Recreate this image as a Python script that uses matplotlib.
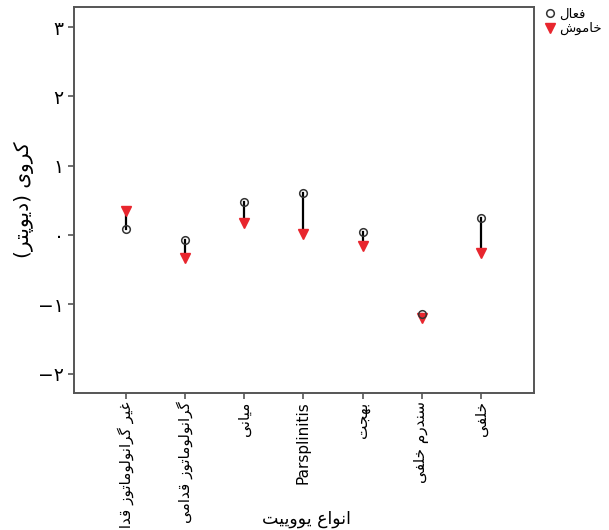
import matplotlib
matplotlib.use("Agg")
import matplotlib.pyplot as plt

# simple persian shaping: (isolated, final, initial, medial)
FORMS = {
    'ا': ('\uFE8D', '\uFE8E', None, None),
    'ب': ('\uFE8F', '\uFE90', '\uFE91', '\uFE92'),
    'پ': ('\uFB56', '\uFB57', '\uFB58', '\uFB59'),
    'ت': ('\uFE95', '\uFE96', '\uFE97', '\uFE98'),
    'ج': ('\uFE9D', '\uFE9E', '\uFE9F', '\uFEA0'),
    'خ': ('\uFEA5', '\uFEA6', '\uFEA7', '\uFEA8'),
    'د': ('\uFEA9', '\uFEAA', None, None),
    'ر': ('\uFEAD', '\uFEAE', None, None),
    'ز': ('\uFEAF', '\uFEB0', None, None),
    'س': ('\uFEB1', '\uFEB2', '\uFEB3', '\uFEB4'),
    'ش': ('\uFEB5', '\uFEB6', '\uFEB7', '\uFEB8'),
    'ع': ('\uFEC9', '\uFECA', '\uFECB', '\uFECC'),
    'غ': ('\uFECD', '\uFECE', '\uFECF', '\uFED0'),
    'ف': ('\uFED1', '\uFED2', '\uFED3', '\uFED4'),
    'ق': ('\uFED5', '\uFED6', '\uFED7', '\uFED8'),
    'ک': ('\uFB8E', '\uFB8F', '\uFB90', '\uFB91'),
    'گ': ('\uFB92', '\uFB93', '\uFB94', '\uFB95'),
    'ل': ('\uFEDD', '\uFEDE', '\uFEDF', '\uFEE0'),
    'م': ('\uFEE1', '\uFEE2', '\uFEE3', '\uFEE4'),
    'ن': ('\uFEE5', '\uFEE6', '\uFEE7', '\uFEE8'),
    'ه': ('\uFEE9', '\uFEEA', '\uFEEB', '\uFEEC'),
    'و': ('\uFEED', '\uFEEE', None, None),
    'ی': ('\uFBFC', '\uFBFD', '\uFBFE', '\uFBFF'),
}
MIRROR = {'(': ')', ')': '('}


def fa(s):
    out = []
    for i, ch in enumerate(s):
        if ch not in FORMS:
            out.append(MIRROR.get(ch, ch))
            continue
        prev = s[i - 1] if i > 0 else None
        nxt = s[i + 1] if i + 1 < len(s) else None
        join_prev = prev in FORMS and FORMS[prev][2] is not None
        join_next = FORMS[ch][2] is not None and nxt in FORMS
        f = FORMS[ch]
        if join_prev and join_next:
            out.append(f[3])
        elif join_prev:
            out.append(f[1])
        elif join_next:
            out.append(f[2])
        else:
            out.append(f[0])
    return ''.join(out[::-1])


categories = ['غیر گرانولوماتوز قدامی', 'گرانولوماتوز قدامی', 'میانی',
              'Parsplinitis', 'بهجت', 'سندرم خلفی', 'خلفی']
active = [0.09, -0.07, 0.47, 0.60, 0.05, -1.14, 0.25]
inactive = [0.34, -0.33, 0.17, 0.01, -0.16, -1.20, -0.26]
yticks = [-2, -1, 0, 1, 2, 3]
ytick_labels = ['−۲', '−۱', '۰', '۱', '۲', '۳']

plt.rcParams['font.family'] = ['DejaVu Sans']

fig = plt.figure(figsize=(6.09, 5.30), dpi=100)
ax = fig.add_axes([0.1215, 0.2585, 0.7553, 0.7283])

x = list(range(1, len(categories) + 1))
for xi, a, b in zip(x, active, inactive):
    ax.plot([xi, xi], [a, b], color='black', lw=1.6, zorder=2)
ax.plot(x, inactive, linestyle='none', marker='v', ms=7.5, color='#e8262e',
        mec='#e8262e', zorder=3, label=fa('خاموش'))
ax.plot(x, active, linestyle='none', marker='o', ms=5.5, mfc='none',
        mec='#333333', mew=1.1, zorder=4, label=fa('فعال'))

ax.set_xlim(0.12, 7.9)
ax.set_ylim(-2.28, 3.29)
ax.set_yticks(yticks)
ax.set_yticklabels(ytick_labels, fontsize=13.5)
ax.set_xticks(x)
ax.set_xticklabels([c if c.isascii() else fa(c) for c in categories],
                   rotation=90, fontsize=11)
ax.set_ylabel(fa('کروی (دیوپتر)'), fontsize=14.5)
ax.yaxis.set_label_coords(-0.088, 0.5)
ax.set_xlabel(fa('انواع یووییت'), fontsize=12.5)
ax.xaxis.set_label_coords(0.505, -0.303)

for sp in ax.spines.values():
    sp.set_color('#555555')
    sp.set_linewidth(1.4)
ax.tick_params(color='#555555', width=1.2, length=4)
ax.tick_params(axis='x', pad=2)

h, l = ax.get_legend_handles_labels()
fig.legend(h[::-1], l[::-1], loc='upper left', bbox_to_anchor=(0.882, 1.0),
           frameon=False, fontsize=9.5, handlelength=0.8, handletextpad=0.3,
           labelspacing=0.1, borderaxespad=0.2)

fig.savefig('out.png', dpi=100)
